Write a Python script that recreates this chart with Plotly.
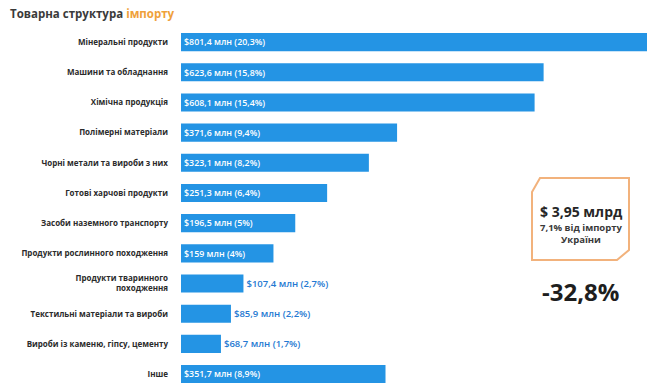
import plotly.graph_objects as go

# Import structure by product group (USD million, share of total %)
categories = [
    "Мінеральні продукти",
    "Машини та обладнання",
    "Хімічна продукція",
    "Полімерні матеріали",
    "Чорні метали та вироби з них",
    "Готові харчові продукти",
    "Засоби наземного транспорту",
    "Продукти рослинного походження",
    "Продукти тваринного<br>походження",
    "Текстильні матеріали та вироби",
    "Вироби із каменю, гіпсу, цементу",
    "Інше",
]
values_mln = [801.4, 623.6, 608.1, 371.6, 323.1, 251.3, 196.5, 159, 107.4, 85.9, 68.7, 351.7]
shares_pct = [20.3, 15.8, 15.4, 9.4, 8.2, 6.4, 5, 4, 2.7, 2.2, 1.7, 8.9]

total_text = "$ 3,95 млрд"
share_text = "7,1% від імпорту<br>України"
change_text = "-32,8%"


def ua_num(v):
    return f"{v:g}".replace(".", ",")


bar_text = [f"${ua_num(v)} млн ({ua_num(s)}%)" for v, s in zip(values_mln, shares_pct)]

W, H = 647, 384
ML, MR, MT, MB = 181, 0, 27, 0
PW, PH = W - ML - MR, H - MT - MB


def px(x):
    return (x - ML) / PW


def py(y):
    return (H - MB - y) / PH


FONT = "Open Sans, Noto Sans, DejaVu Sans, sans-serif"

fig = go.Figure(
    go.Bar(
        y=categories,
        x=values_mln,
        orientation="h",
        width=0.6,
        marker=dict(color="#2494e4", line=dict(width=0)),
        text=bar_text,
        textposition="auto",
        insidetextanchor="start",
        textfont=dict(family=FONT, size=9.5, color="white", weight=600),
        insidetextfont=dict(family=FONT, size=9.5, color="white", weight=600),
        outsidetextfont=dict(family=FONT, size=9.5, color="#2479d2", weight=600),
        cliponaxis=False,
        hoverinfo="skip",
    )
)

fig.update_layout(
    width=W,
    height=H,
    margin=dict(l=ML, r=MR, t=MT, b=MB),
    paper_bgcolor="white",
    plot_bgcolor="white",
    showlegend=False,
    font=dict(family=FONT),
    xaxis=dict(range=[0, 801.4], visible=False, fixedrange=True),
    yaxis=dict(
        type="category",
        range=[11.33, -0.5],
        showgrid=False,
        zeroline=False,
        showline=False,
        ticks="",
        ticklabelstandoff=12,
        tickfont=dict(family=FONT, size=8, color="#2b2b2b", weight="bold"),
        fixedrange=True,
    ),
)

# Title
fig.add_annotation(
    x=px(8), y=py(14), xref="paper", yref="paper",
    xanchor="left", yanchor="middle", showarrow=False,
    text="<b>Товарна структура <span style='color:#EFA13A'>імпорту</span></b>",
    font=dict(family=FONT, size=11.5, color="#3a3a3a"),
)

# Summary box with chamfered corners
box = [(540, 178), (629, 178), (629, 250), (617, 260), (532, 260), (532, 192)]
path = "M " + " L ".join(f"{px(x)},{py(y)}" for x, y in box) + " Z"
fig.add_shape(
    type="path", path=path, xref="paper", yref="paper",
    line=dict(color="#F2B27C", width=2), fillcolor="rgba(0,0,0,0)",
)

fig.add_annotation(
    x=px(581), y=py(212), xref="paper", yref="paper",
    showarrow=False, xanchor="center", yanchor="middle",
    text=f"<b>{total_text}</b>",
    font=dict(family=FONT, size=14, color="#262626"),
)
fig.add_annotation(
    x=px(581), y=py(234), xref="paper", yref="paper",
    showarrow=False, xanchor="center", yanchor="middle",
    text=f"<b>{share_text}</b>",
    font=dict(family=FONT, size=9.5, color="#3a3a3a"),
)
fig.add_annotation(
    x=px(580), y=py(291), xref="paper", yref="paper",
    showarrow=False, xanchor="center", yanchor="middle",
    text=f"<b>{change_text}</b>",
    font=dict(family=FONT, size=24, color="#1e1e1e"),
)

fig.write_html("out.html")
